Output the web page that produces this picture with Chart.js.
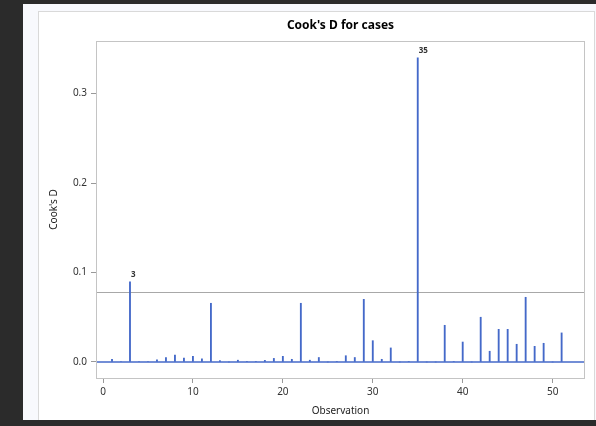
<!DOCTYPE html>
<html>
<head>
<meta charset="utf-8">
<script src="https://cdn.jsdelivr.net/npm/chart.js@4/dist/chart.umd.min.js"></script>
<style>
  html, body { margin: 0; padding: 0; background: #2b2b2b; width: 596px; height: 426px; overflow: hidden; }
  #panel { position: absolute; left: 23px; top: 4px; width: 573px; height: 416px; background: #f8f9fd; overflow: hidden; }
  #box { position: absolute; left: 15px; top: 7px; width: 557px; height: 430px; background: #fff; border: 1px solid #d9d9d9; box-sizing: border-box; }
  #chart { position: absolute; left: 0; top: 0; }
</style>
</head>
<body>
<div id="panel"><div id="box"><canvas id="chart" width="555" height="408"></canvas></div></div>
<script>
var obs = [];
for (var i = 1; i <= 51; i++) obs.push(i);
var cooksD = [
  0.003, 0.0005, 0.0897, 0.0005, 0.0005, 0.0025, 0.005, 0.0078, 0.0045, 0.0064,
  0.0035, 0.0656, 0.0015, 0, 0.002, 0.0005, 0.0005, 0.0018, 0.004, 0.0063,
  0.003, 0.0656, 0.002, 0.005, 0, 0.0005, 0.007, 0.005, 0.070, 0.0238,
  0.003, 0.0157, 0, 0.0005, 0.340, 0, 0, 0.041, 0.0005, 0.0223,
  0, 0.050, 0.012, 0.0365, 0.0365, 0.0198, 0.0723, 0.0175, 0.0209, 0,
  0.0325
];
var xTicks = [0, 10, 20, 30, 40, 50];
var yTicks = [0.0, 0.1, 0.2, 0.3];
var cutoff = 4 / cooksD.length;

var blue = '#4469c9';
var fontFam = "'Noto Sans', 'DejaVu Sans', sans-serif";

//reference lines, frame, title and outlier labels
var extras = {
  id: 'extras',
  beforeDatasetsDraw: function(chart) {
    var c = chart.ctx, a = chart.chartArea, y = chart.scales.y;
    c.save();
    var yc = Math.round(y.getPixelForValue(cutoff)) + 0.5;
    c.strokeStyle = '#a8a8a8';
    c.lineWidth = 1;
    c.beginPath(); c.moveTo(a.left, yc); c.lineTo(a.right, yc); c.stroke();
    var y0 = y.getPixelForValue(0);
    c.strokeStyle = blue;
    c.lineWidth = 1.5;
    c.beginPath(); c.moveTo(a.left, y0); c.lineTo(a.right, y0); c.stroke();
    c.restore();
  },
  afterDraw: function(chart) {
    var c = chart.ctx, a = chart.chartArea;
    c.save();
    c.strokeStyle = '#c4c4c4';
    c.lineWidth = 1;
    c.strokeRect(a.left + 0.5, a.top + 0.5, a.right - a.left - 1, a.bottom - a.top);
    c.fillStyle = '#000';
    c.font = "bold 12px " + fontFam;
    c.textAlign = 'center';
    c.textBaseline = 'middle';
    c.fillText("Cook's D for cases", (a.left + a.right) / 2, 14);
    var meta = chart.getDatasetMeta(0);
    c.font = "bold 8px " + fontFam;
    c.fillStyle = '#333';
    c.textAlign = 'left';
    c.textBaseline = 'alphabetic';
    cooksD.forEach(function(v, i) {
      if (v > cutoff) {
        var el = meta.data[i];
        c.fillText(String(obs[i]), el.x + 1, el.y - 5);
      }
    });
    c.restore();
  }
};

var ctx = document.getElementById('chart').getContext('2d');
var myChart = new Chart(ctx, {
  type: 'bar',
  data: {
    datasets: [{
      label: "Cook's D",
      data: obs.map(function(o, i) { return { x: o, y: cooksD[i] }; }),
      backgroundColor: blue,
      barThickness: 1.2
    }]
  },
  plugins: [extras],
  options: {
    responsive: false,
    animation: false,
    devicePixelRatio: 1,
    layout: { padding: { top: 29, right: 9, left: 0, bottom: 0 } },
    plugins: {
      legend: { display: false },
      tooltip: { enabled: false }
    },
    scales: {
      x: {
        type: 'linear',
        offset: false,
        min: -0.78,
        max: 53.6,
        afterBuildTicks: function(s) { s.ticks = xTicks.map(function(v) { return { value: v }; }); },
        afterFit: function(s) { s.height = 42; },
        grid: { offset: false, drawOnChartArea: false, drawTicks: true, tickLength: 5, color: '#999' },
        border: { display: false },
        ticks: { color: '#333', padding: 3, maxRotation: 0, font: { family: fontFam, size: 10 } },
        title: { display: true, text: 'Observation', color: '#222', padding: { top: 0, bottom: 3 }, font: { family: fontFam, size: 10 } }
      },
      y: {
        min: -0.0179,
        max: 0.3587,
        afterBuildTicks: function(s) { s.ticks = yTicks.map(function(v) { return { value: v }; }); },
        afterFit: function(s) { s.width = 57; },
        grid: { drawOnChartArea: false, drawTicks: true, tickLength: 5, color: '#999' },
        border: { display: false },
        ticks: { color: '#333', padding: 4, callback: function(v) { return v.toFixed(1); }, font: { family: fontFam, size: 10 } },
        title: { display: true, text: "Cook's D", color: '#222', padding: { top: 9, bottom: 0 }, font: { family: fontFam, size: 10 } }
      }
    }
  }
});
</script>
</body>
</html>
